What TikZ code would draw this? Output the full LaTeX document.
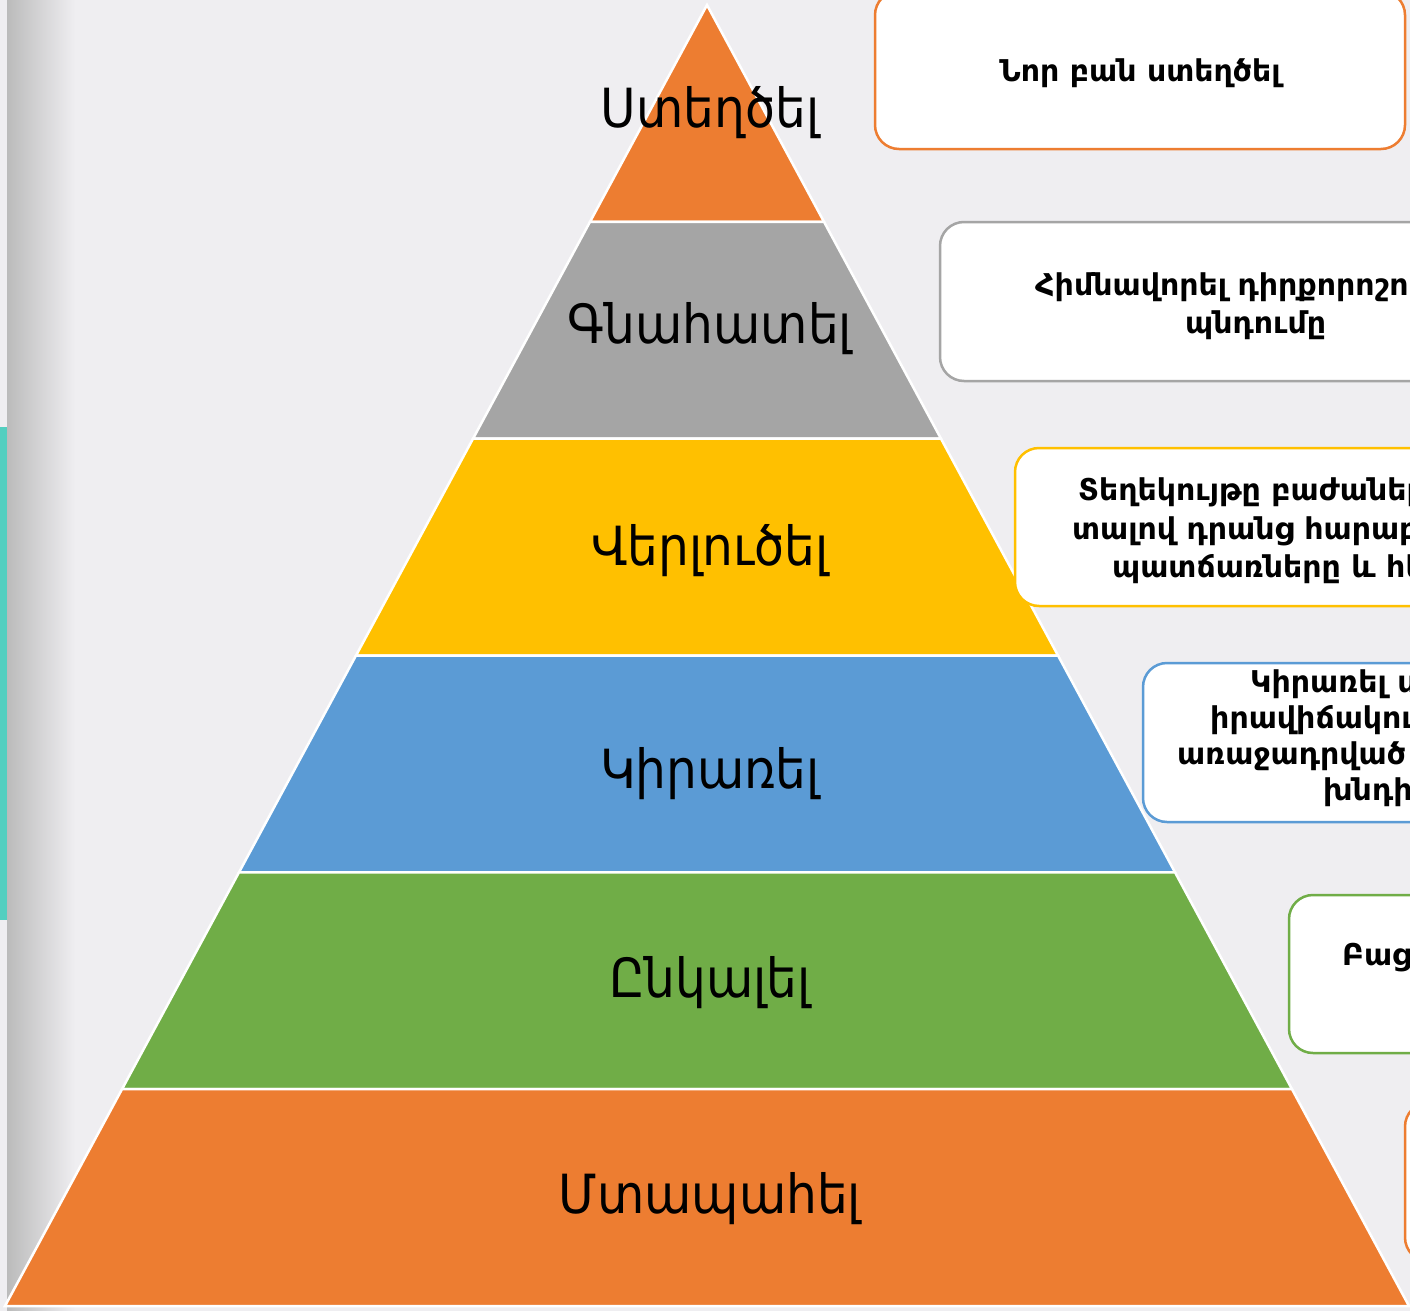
\documentclass[tikz,border=0pt]{standalone}
\usepackage{fontspec}
\setmainfont{DejaVu Sans}
\newfontfamily\lblfont{DejaVu Sans Condensed}
\definecolor{bg}{RGB}{239,238,241}
\definecolor{porange}{RGB}{237,125,49}
\definecolor{pgray}{RGB}{165,165,165}
\definecolor{pyellow}{RGB}{255,192,0}
\definecolor{pblue}{RGB}{91,155,213}
\definecolor{pgreen}{RGB}{112,173,71}
\definecolor{pteal}{RGB}{84,207,192}
\definecolor{edgegray}{RGB}{187,187,187}
\tikzset{
  layer/.style={draw=white, line width=2.5pt, line join=miter},
  lbl/.style={anchor=base, inner sep=0pt, font=\lblfont\fontsize{54}{60}\selectfont},
  infobox/.style={draw=#1, fill=white, line width=2.5pt, rounded corners=24pt, rectangle, inner sep=0pt},
  ln/.style={anchor=base west, inner sep=0pt, font=\fontsize{30}{36}\selectfont\bfseries},
}
\begin{document}
\begin{tikzpicture}[x=1pt,y=-1pt]
\useasboundingbox (0,0) rectangle (1410,1311);
\clip (0,0) rectangle (1410,1311);
\fill[bg] (0,0) rectangle (1410,1311);
\fill[pteal] (0,427) rectangle (7,920);
\shade[left color=edgegray, right color=bg] (7,0) rectangle (75,1311);

% pyramid layers
\filldraw[layer, fill=porange] (707,5) -- (824,221.8) -- (590,221.8) -- cycle;
\filldraw[layer, fill=pgray] (590,221.8) -- (824,221.8) -- (941,438.7) -- (473,438.7) -- cycle;
\filldraw[layer, fill=pyellow] (473,438.7) -- (941,438.7) -- (1058,655.5) -- (356,655.5) -- cycle;
\filldraw[layer, fill=pblue] (356,655.5) -- (1058,655.5) -- (1175,872.3) -- (239,872.3) -- cycle;
\filldraw[layer, fill=pgreen] (239,872.3) -- (1175,872.3) -- (1292,1089.2) -- (122,1089.2) -- cycle;
\filldraw[layer, fill=porange] (122,1089.2) -- (1292,1089.2) -- (1409,1306) -- (5,1306) -- cycle;

% layer labels
\node[lbl] (L1) at (710,128) {Ստեղծել};
\node[lbl] (L2) at (710,343) {Գնահատել};
\node[lbl] (L3) at (710,565) {Վերլուծել};
\node[lbl] (L4) at (710,788) {Կիրառել};
\node[lbl] (L5) at (710,997) {Ընկալել};
\node[lbl] (L6) at (710,1213) {Մտապահել};

% info boxes
\node[infobox=porange, minimum width=530pt, minimum height=158pt] (B1) at (1140,70) {};
\node[infobox=pgray, minimum width=630pt, minimum height=159pt] (B2) at (1255,301.5) {};
\node[infobox=pyellow, minimum width=630pt, minimum height=158pt] (B3) at (1330,527) {};
\node[infobox=pblue, minimum width=630pt, minimum height=159pt] (B4) at (1458,742.5) {};
\node[infobox=pgreen, minimum width=630pt, minimum height=158pt] (B5) at (1604,974) {};
\node[infobox=porange, minimum width=630pt, minimum height=159pt] (B6) at (1720,1182) {};

% box texts
\node[ln, anchor=base] (T1) at (1140,82) {Նոր բան ստեղծել};
\node[ln] (T2a) at (1035,295) {Հիմնավորել դիրքորոշումը կամ};
\node[ln] (T2b) at (1185,333) {պնդումը};
\node[ln] (T3a) at (1078,500) {Տեղեկույթը բաժանել մասերի՝};
\node[ln] (T3b) at (1072,539) {տալով դրանց հարաբերությունները,};
\node[ln] (T3c) at (1112,577) {պատճառները և հետևանքները};
\node[ln] (T4a) at (1250,692) {Կիրառել սովորածը նոր};
\node[ln] (T4b) at (1210,728) {իրավիճակում՝ լուծելով};
\node[ln] (T4c) at (1177,764) {առաջադրված գործնական};
\node[ln] (T4d) at (1323,800) {խնդիրներ};
\node[ln] (T5a) at (1342,965) {Բացատրել գաղափարները};
\end{tikzpicture}
\end{document}
